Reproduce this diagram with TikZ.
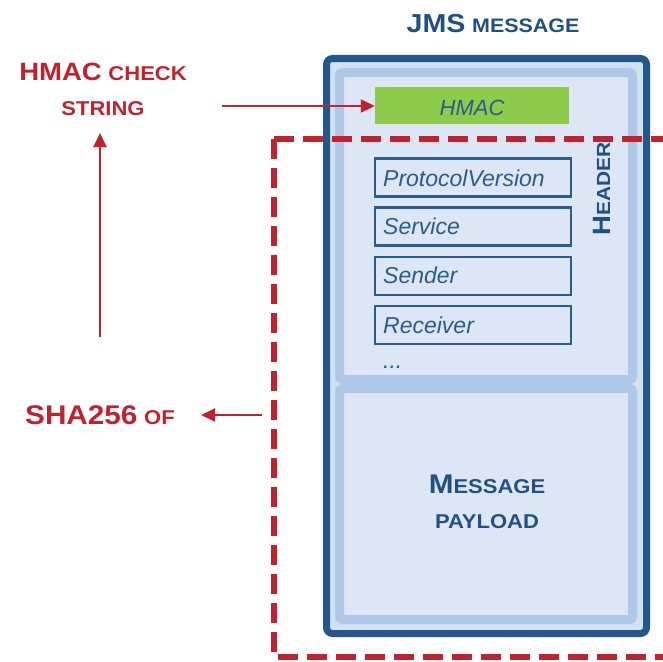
\documentclass[tikz,border=0pt]{standalone}
\usepackage{fontspec}
\setmainfont{Liberation Sans}
\newfontfamily\ttlfont{Liberation Sans}[FakeStretch=1.1]
\usetikzlibrary{arrows.meta}
\definecolor{frameblue}{RGB}{36,88,140}
\definecolor{textblue}{RGB}{32,80,132}
\definecolor{fieldblue}{RGB}{44,92,142}
\definecolor{panellight}{RGB}{220,230,244}
\definecolor{panelband}{RGB}{176,200,231}
\definecolor{framefill}{RGB}{210,224,241}
\definecolor{hmacgreen}{RGB}{143,203,74}
\definecolor{alertred}{RGB}{193,34,45}
\newcommand{\bigsc}[2]{{\fontsize{#1}{#1}\selectfont #2}}
\tikzset{
  titletext/.style={inner sep=0pt, anchor=base, font=\ttlfont\bfseries\fontsize{22}{22}\selectfont},
  bluetitle/.style={titletext, text=textblue},
  redtitle/.style={titletext, text=alertred},
  panel/.style={fill=panellight, draw=panelband, line width=9pt, rounded corners=3pt},
  fieldbox/.style={draw=fieldblue, line width=2.6pt, fill=panellight, minimum width=196pt, minimum height=38pt, inner sep=0pt},
  fieldtext/.style={inner sep=0pt, anchor=base west, font=\fontsize{23}{23}\selectfont\itshape, text=fieldblue},
  redarrow/.style={draw=alertred, line width=2pt, -{Triangle[length=14pt,width=13pt]}},
  reddash/.style={draw=alertred, line width=6pt, dash pattern=on 20pt off 9pt}
}
\begin{document}
\begin{tikzpicture}[x=1pt,y=-1pt]
\useasboundingbox (0,0) rectangle (663,661);
\begin{scope}
\clip (0,0) rectangle (663,661);
% JMS message frame
\draw[draw=frameblue, line width=7pt, fill=framefill, rounded corners=6pt] (326.5,58.5) rectangle (646.5,633.5);
\draw[panel] (339.5,72.5) rectangle (632.5,379.5);
\draw[panel] (339.5,388.5) rectangle (632.5,619.5);
% HMAC field
\node[fill=hmacgreen, minimum width=194pt, minimum height=37pt, inner sep=0pt] (hmac) at (472,105.5) {};
\node[inner sep=0pt, anchor=base, font=\fontsize{22}{22}\selectfont\itshape, text=fieldblue] (hmactxt) at (472,115) {HMAC};
% header fields
\node[fieldbox] (pv) at (473,177.5) {};
\node[fieldbox] (sv) at (473,226.5) {};
\node[fieldbox] (sd) at (473,276) {};
\node[fieldbox] (rc) at (473,325) {};
\node[fieldtext] (pvt) at (383,186) {ProtocolVersion};
\node[fieldtext] (svt) at (383,234) {Service};
\node[fieldtext] (sdt) at (383,283) {Sender};
\node[fieldtext] (rct) at (383,333) {Receiver};
\node[fieldtext] (dots) at (383,368) {...};
% header label
\node[bluetitle, rotate=90] (hdr) at (610,189) {\bigsc{25}{H}\bigsc{19}{EADER}};
% payload label
\node[bluetitle] (msg) at (487,493) {\bigsc{27}{M}\bigsc{20}{ESSAGE}};
\node[bluetitle] (pay) at (487,528) {\bigsc{20}{PAYLOAD}};
% title
\node[bluetitle] (jms) at (493,33) {\bigsc{26}{JMS} \bigsc{19.5}{MESSAGE}};
% red dashed region
\draw[reddash] (274,139) -- (720,139);
\draw[reddash] (274,139) -- (274,657) -- (720,657);
\end{scope}
% left labels
\node[redtitle] (chk) at (103,80) {\bigsc{25}{HMAC} \bigsc{20}{CHECK}};
\node[redtitle] (str) at (103,115) {\bigsc{20}{STRING}};
\node[redtitle] (sha) at (100,424) {\bigsc{27}{SHA256} \bigsc{20}{OF}};
% arrows
\coordinate (upfrom) at (100,337);
\coordinate (upto) at (100,133);
\draw[redarrow] (upfrom) -- (upto);
\coordinate (inarrow) at (222,106);
\draw[redarrow] (inarrow) -- (hmac.west |- inarrow);
\coordinate (shafrom) at (262,415);
\coordinate (shato) at (201,415);
\draw[redarrow] (shafrom) -- (shato);
\end{tikzpicture}
\end{document}
